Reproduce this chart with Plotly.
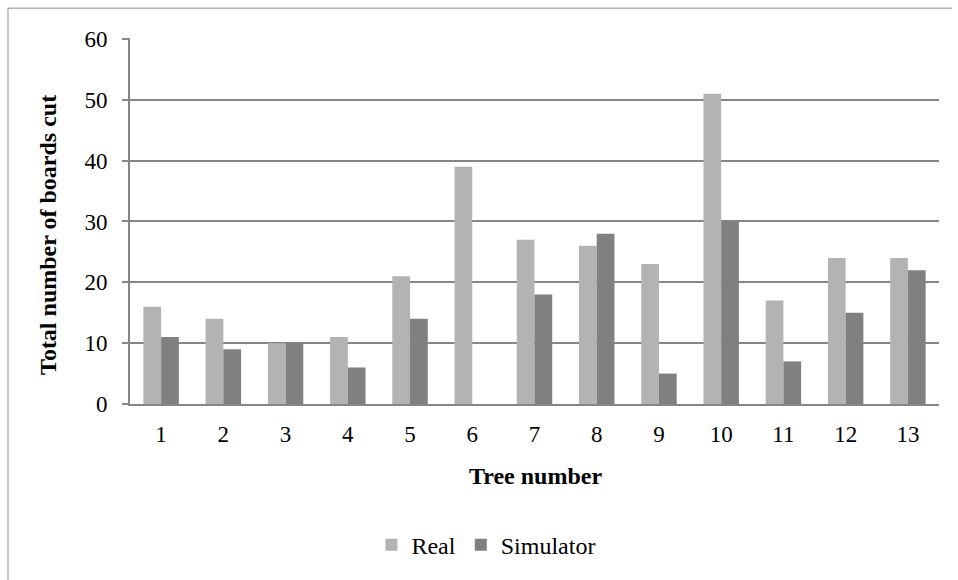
import plotly.graph_objects as go

trees = [str(i) for i in range(1, 14)]
real = [16, 14, 10, 11, 21, 39, 27, 26, 23, 51, 17, 24, 24]
simulator = [11, 9, 10, 6, 14, 0, 18, 28, 5, 30, 7, 15, 22]
y_ticks = [0, 10, 20, 30, 40, 50, 60]

W, H = 958, 580
L, R, T, B = 130, 19, 38, 174
pw, ph = W - L - R, H - T - B

font = "Liberation Serif, Times New Roman, serif"

fig = go.Figure()
fig.add_trace(go.Bar(x=trees, y=real, name="Real",
                     marker=dict(color="#b3b3b3", line=dict(width=0))))
fig.add_trace(go.Bar(x=trees, y=simulator, name="Simulator",
                     marker=dict(color="#808080", line=dict(width=0))))

def px_x(p):
    return (p - L) / pw

def px_y(p):
    return 1 - (p - T) / ph

# border lines (left and top) of chart area
fig.add_shape(type="line", xref="paper", yref="paper", x0=px_x(8), x1=px_x(952), y0=px_y(8), y1=px_y(8),
              line=dict(color="#8c8c8c", width=1))
fig.add_shape(type="line", xref="paper", yref="paper", x0=px_x(8), x1=px_x(8), y0=px_y(8), y1=px_y(585),
              line=dict(color="#8c8c8c", width=1))

# axis titles
fig.add_annotation(text="<b>Total number of boards cut</b>", xref="paper", yref="paper",
                   x=px_x(48), y=px_y(236), textangle=-90, showarrow=False,
                   xanchor="center", yanchor="middle",
                   font=dict(family=font, size=24, color="black"))
fig.add_annotation(text="<b>Tree number</b>", xref="paper", yref="paper",
                   x=px_x(535), y=px_y(478), showarrow=False,
                   xanchor="center", yanchor="middle",
                   font=dict(family=font, size=24, color="black"))

fig.update_layout(
    width=W, height=H,
    margin=dict(l=L, r=R, t=T, b=B),
    paper_bgcolor="white", plot_bgcolor="white",
    barmode="group", bargap=0.43, bargroupgap=0,
    font=dict(family=font, size=23, color="black"),
    showlegend=True,
    legend=dict(orientation="h", x=0.44, xanchor="center", y=px_y(548), yanchor="middle",
                font=dict(family=font, size=24, color="black"), itemwidth=30,
                traceorder="normal", tracegroupgap=0),
    xaxis=dict(
        showline=True, linecolor="#868686", linewidth=2,
        ticks="", showgrid=False, ticklabelstandoff=8,
        tickfont=dict(family=font, size=23, color="black"),
    ),
    yaxis=dict(
        range=[0, 60.15], tickvals=y_ticks, ticktext=[str(v) for v in y_ticks],
        showline=True, linecolor="#868686", linewidth=2,
        ticks="outside", ticklen=6, tickcolor="#868686", tickwidth=1.5,
        ticklabelstandoff=10,
        showgrid=True, gridcolor="#868686", gridwidth=1.5,
        zeroline=False,
        tickfont=dict(family=font, size=23, color="black"),
    ),
)

fig.write_html("out.html")
